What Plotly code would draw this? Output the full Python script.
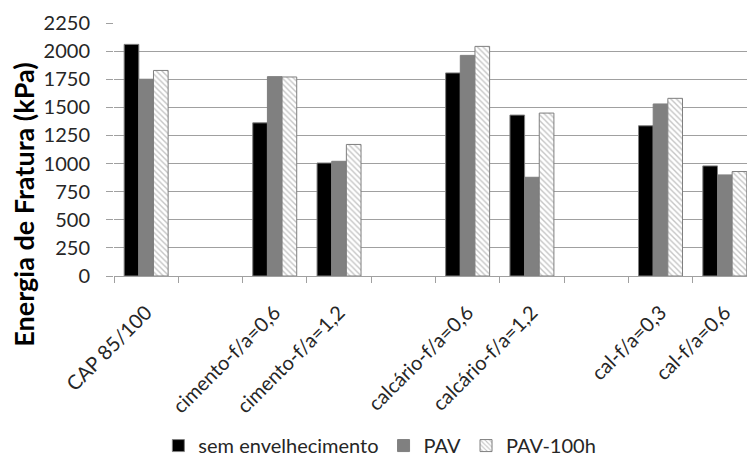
import plotly.graph_objects as go

categories = ["CAP 85/100", " ", "cimento-f/a=0,6", "cimento-f/a=1,2", "  ",
              "calcário-f/a=0,6", "calcário-f/a=1,2", "   ", "cal-f/a=0,3", "cal-f/a=0,6"]
sem_envelhecimento = [2060, None, 1362, 1005, None, 1806, 1431, None, 1336, 979]
pav = [1750, None, 1773, 1020, None, 1962, 878, None, 1530, 899]
pav_100h = [1828, None, 1770, 1170, None, 2042, 1449, None, 1580, 929]
y_ticks = [0, 250, 500, 750, 1000, 1250, 1500, 1750, 2000, 2250]
y_title = "Energia de Fratura (kPa)"

FONT = "Lato"
edge = "#7f7f7f"
txt = "#262626"

fig = go.Figure()
fig.add_trace(go.Bar(x=categories, y=sem_envelhecimento, name="sem envelhecimento",
                     marker=dict(color="#000000", line=dict(color=edge, width=1))))
fig.add_trace(go.Bar(x=categories, y=pav, name="PAV",
                     marker=dict(color="#808080", line=dict(color=edge, width=1))))
fig.add_trace(go.Bar(x=categories, y=pav_100h, name="PAV-100h",
                     marker=dict(color="#ffffff", line=dict(color=edge, width=1),
                                 pattern=dict(shape="\\", fgcolor="#8c8c8c", bgcolor="#ffffff",
                                              size=4, solidity=0.35))))

fig.update_layout(
    width=747, height=457,
    margin=dict(l=114, r=0, t=23, b=181, autoexpand=False),
    paper_bgcolor="white", plot_bgcolor="white",
    barmode="group", bargap=0.316, bargroupgap=0,
    font=dict(family=FONT, size=20, color=txt),
    showlegend=True,
    legend=dict(orientation="h", x=0.42, xanchor="center",
                yref="container", y=0.025, yanchor="middle",
                font=dict(family=FONT, size=20, color=txt),
                itemwidth=30, traceorder="normal"),
    xaxis=dict(
        type="category", categoryorder="array", categoryarray=categories,
        range=[-0.5, 9.345], automargin=False,
        showline=True, linecolor="#a0a0a0", linewidth=1,
        ticks="outside", tickson="boundaries", ticklen=6, tickcolor="#a0a0a0",
        tickangle=-45, ticklabelstandoff=16,
        tickfont=dict(family=FONT, size=20, color=txt),
        showgrid=False,
    ),
    yaxis=dict(
        range=[0, 2250], tickvals=y_ticks, automargin=False,
        showgrid=True, gridcolor="#a0a0a0", gridwidth=1,
        showline=False, zeroline=False,
        ticks="outside", ticklen=7, tickcolor="#a0a0a0",
        ticklabelstandoff=12,
        tickfont=dict(family=FONT, size=20, color=txt),
    ),
    annotations=[dict(text="<b>" + y_title + "</b>", textangle=-90,
                      xref="paper", yref="paper",
                      x=(24 - 114) / 633, y=(276.3 - 205) / 253,
                      xanchor="center", yanchor="middle", showarrow=False,
                      font=dict(family=FONT, size=27, color="#000000"))],
)

fig.write_html("out.html")
